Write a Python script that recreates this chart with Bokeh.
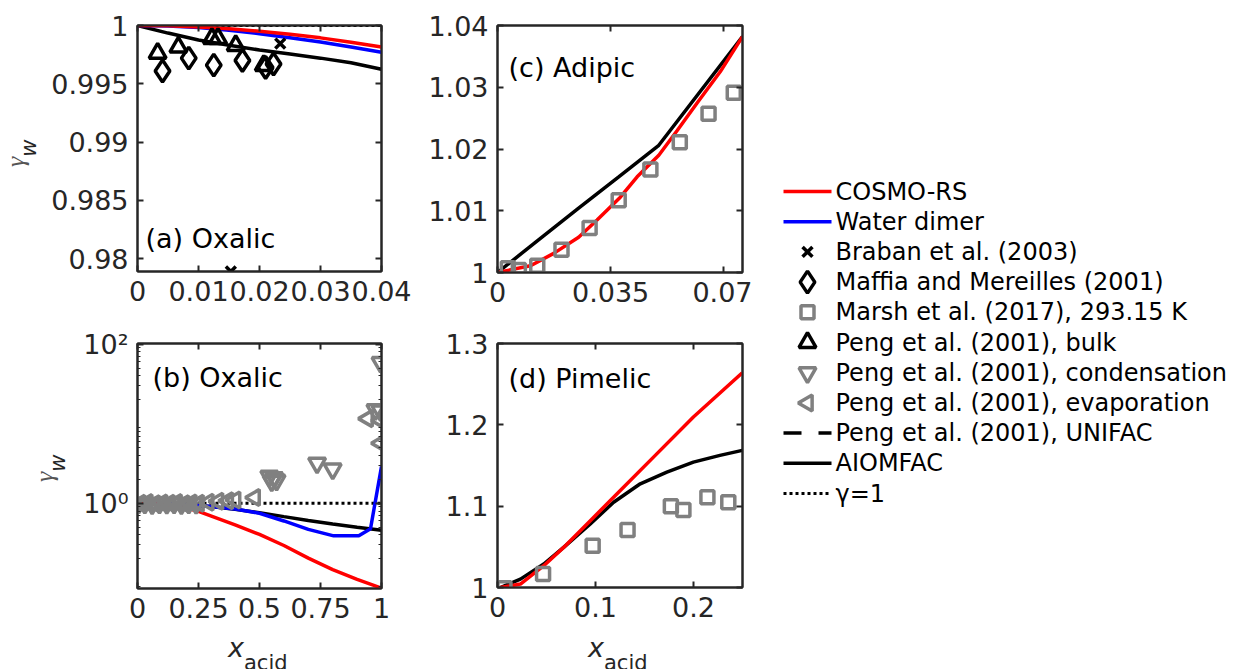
import math
from bokeh.plotting import figure
from bokeh.models import Range1d, FixedTicker, LinearAxis, Label, Div
from bokeh.layouts import row, column
from bokeh.embed import file_html
from bokeh.resources import INLINE
from bokeh.core.properties import value

# ---------------- data ----------------
# (a) Oxalic, dilute
a_x_ticks = [0, 0.01, 0.02, 0.03, 0.04]
a_x_labels = ["0", "0.01", "0.02", "0.03", "0.04"]
a_y_ticks = [0.98, 0.985, 0.99, 0.995, 1.0]
a_y_labels = ["0.98", "0.985", "0.99", "0.995", "1"]
a_model_x = [0, 0.005, 0.01, 0.015, 0.02, 0.025, 0.03, 0.035, 0.04]
a_cosmo = [1.0, 0.99997, 0.99988, 0.99972, 0.99950, 0.99924, 0.99894, 0.99857, 0.99815]
a_dimer = [1.0, 0.99995, 0.99982, 0.99960, 0.99930, 0.99895, 0.99858, 0.99815, 0.99771]
a_aiomfac = [1.0, 0.99935, 0.99875, 0.99830, 0.99790, 0.99755, 0.99720, 0.99680, 0.99625]
a_ideal_x = [0, 0.04]
a_braban_x = [0.0153, 0.0234]
a_braban_y = [0.9789, 0.99845]
a_maffia_x = [0.0041, 0.0084, 0.0125, 0.0172, 0.0210, 0.0223]
a_maffia_y = [0.9961, 0.9972, 0.9966, 0.9970, 0.9964, 0.9967]
a_bulk_x = [0.0033, 0.0067, 0.0122, 0.0132, 0.0161, 0.0207]
a_bulk_y = [0.99762, 0.99814, 0.99888, 0.99888, 0.99828, 0.99657]

# (b) Oxalic, full range (log y)
b_x_ticks = [0, 0.25, 0.5, 0.75, 1]
b_x_labels = ["0", "0.25", "0.5", "0.75", "1"]
b_y_ticks = [1, 100]
b_y_labels = ["10\u2070", "10\u00b2"]
b_cosmo_x = [0, 0.05, 0.1, 0.15, 0.2, 0.25, 0.3, 0.4, 0.5, 0.6, 0.7, 0.8, 0.9, 1.0]
b_cosmo = [1.0, 0.99, 0.971, 0.93, 0.877, 0.79, 0.695, 0.535, 0.406, 0.295, 0.205, 0.147, 0.111, 0.086]
b_dimer_x = [0, 0.1, 0.2, 0.3, 0.4, 0.5, 0.6, 0.7, 0.804, 0.907, 0.955, 1.0]
b_dimer = [1.0, 0.99, 0.96, 0.91, 0.85, 0.75, 0.60, 0.47, 0.39, 0.39, 0.48, 2.9]
b_aiom_x = [0, 0.1, 0.2, 0.3, 0.4, 0.5, 0.6, 0.7, 0.8, 0.9, 1.0]
b_aiomfac = [1.0, 0.99, 0.96, 0.91, 0.84, 0.76, 0.68, 0.61, 0.55, 0.50, 0.46]
b_ideal_x = [0, 1]
b_cond_x = [0.005, 0.03, 0.06, 0.09, 0.12, 0.15, 0.18, 0.21, 0.24,
            0.54, 0.55, 0.56, 0.57, 0.736, 0.80, 0.975, 0.996, 0.996]
b_cond_y = [1.0, 1.0, 0.98, 1.0, 0.99, 1.0, 0.98, 1.0, 0.99,
            2.2, 1.9, 2.1, 1.95, 3.2, 2.7, 15.0, 14.5, 59.0]
b_evap_x = [0.01, 0.04, 0.07, 0.10, 0.13, 0.16, 0.19, 0.22, 0.25,
            0.29, 0.33, 0.37, 0.40, 0.48, 0.943, 0.996, 0.996]
b_evap_y = [1.0, 1.02, 0.99, 1.01, 1.0, 1.02, 0.99, 1.01, 1.0,
            1.03, 1.06, 1.08, 1.1, 1.18, 11.6, 11.0, 5.7]

# (c) Adipic
c_x_ticks = [0, 0.035, 0.07]
c_x_labels = ["0", "0.035", "0.07"]
c_y_ticks = [1.0, 1.01, 1.02, 1.03, 1.04]
c_y_labels = ["1", "1.01", "1.02", "1.03", "1.04"]
c_cosmo_x = [0.0, 0.0102, 0.0174, 0.0251, 0.0308, 0.0380, 0.0432, 0.0499, 0.0556, 0.0617, 0.0689, 0.0758]
c_cosmo = [1.0, 1.0011, 1.0031, 1.0057, 1.0085, 1.0122, 1.0155, 1.0190, 1.0230, 1.0274, 1.0325, 1.0382]
c_aiom_x = [0.0, 0.0125, 0.025, 0.0375, 0.0499, 0.0758]
c_aiomfac = [1.0, 1.0052, 1.0104, 1.0155, 1.0206, 1.0382]
c_marsh_x = [0.0032, 0.0066, 0.0123, 0.0198, 0.0285, 0.0375, 0.0473, 0.0564, 0.0653, 0.0731]
c_marsh_y = [1.0007, 1.0004, 1.0011, 1.0037, 1.0072, 1.0117, 1.0167, 1.0211, 1.0257, 1.0291]

# (d) Pimelic
d_x_ticks = [0, 0.1, 0.2]
d_x_labels = ["0", "0.1", "0.2"]
d_y_ticks = [1.0, 1.1, 1.2, 1.3]
d_y_labels = ["1", "1.1", "1.2", "1.3"]
d_cosmo_x = [0.003, 0.0234, 0.0472, 0.0675, 0.0947, 0.1253, 0.1592, 0.1999, 0.2498]
d_cosmo = [1.0, 1.0042, 1.0268, 1.0493, 1.0822, 1.1192, 1.1603, 1.2096, 1.2639]
d_aiom_x = [0.003, 0.0234, 0.0472, 0.0675, 0.0947, 0.1185, 0.1457, 0.1728, 0.1999, 0.227, 0.2498]
d_aiomfac = [1.0, 1.0103, 1.0288, 1.0493, 1.0782, 1.1048, 1.1275, 1.1418, 1.1541, 1.1624, 1.1686]
d_marsh_x = [0.0071, 0.0465, 0.0971, 0.1327, 0.1769, 0.1897, 0.2142, 0.2355]
d_marsh_y = [0.999, 1.0165, 1.0514, 1.0708, 1.0999, 1.0954, 1.111, 1.1048]

ideal_y = [1, 1]

legend_labels = ["COSMO-RS", "Water dimer", "Braban et al. (2003)", "Maffia and Mereilles (2001)",
                 "Marsh et al. (2017), 293.15 K", "Peng et al. (2001), bulk",
                 "Peng et al. (2001), condensation", "Peng et al. (2001), evaporation",
                 "Peng et al. (2001), UNIFAC", "AIOMFAC", "\u03b3=1"]
legend_rows = list(range(len(legend_labels)))

# ---------------- style ----------------
FONT = "DejaVu Sans"
AX = "#262626"
RED = "#ff0000"
BLUE = "#0000ff"
GRAY = "#808080"
LW = 3.5
TICK_FS = "27px"


def make_fig(fw, fh, l, r, t, b, xr, yr, ylog=False):
    p = figure(frame_width=fw, frame_height=fh,
               min_border_left=l, min_border_right=r, min_border_top=t, min_border_bottom=b,
               x_range=Range1d(*xr), y_range=Range1d(*yr),
               y_axis_type="log" if ylog else "linear",
               toolbar_location=None, output_backend="svg")
    p.grid.visible = False
    p.outline_line_color = AX
    p.outline_line_width = 2
    return p


def style_axis(ax, ticks, labels=None, minor=None):
    ax.ticker = FixedTicker(ticks=ticks, minor_ticks=minor or [])
    ax.axis_line_color = AX
    ax.axis_line_width = 2
    ax.major_tick_in = 6
    ax.major_tick_out = 0
    ax.major_tick_line_color = AX
    ax.major_tick_line_width = 2
    ax.minor_tick_in = 3
    ax.minor_tick_out = 0
    ax.minor_tick_line_color = AX if minor else None
    ax.minor_tick_line_width = 1
    if labels is None:
        ax.major_label_text_font_size = "1px"
        ax.major_label_text_color = None
        ax.major_label_standoff = 0
    else:
        ax.major_label_overrides = dict(zip(ticks, labels))
        ax.major_label_text_font = FONT
        ax.major_label_text_font_size = TICK_FS
        ax.major_label_text_color = AX
        ax.major_label_standoff = 9


def decorate(p, xt, xl, yt, yl, minor=None):
    style_axis(p.xaxis[0], xt, xl)
    style_axis(p.yaxis[0], yt, yl, minor)
    top = LinearAxis()
    style_axis(top, xt)
    p.add_layout(top, "above")
    right = LinearAxis()
    style_axis(right, yt, None, minor)
    p.add_layout(right, "right")


def text(p, x, y, txt, xo, yo):
    p.add_layout(Label(x=x, y=y, x_offset=xo, y_offset=yo, text=txt, text_font=FONT,
                       text_font_size="27px", text_color="black", text_baseline="alphabetic",
                       text_align="left"))


def ylabel_div(w, h, left, top):
    html = (f'<div style="position:relative;width:{w}px;height:{h}px;overflow:visible">'
            f'<span style="position:absolute;left:{left}px;top:{top}px;white-space:nowrap;'
            f'transform-origin:0 0;transform:rotate(-90deg);font-family:\'Liberation Serif\';'
            f'font-size:26px;line-height:26px">'
            f'<i style="color:#555555">\u03b3</i>'
            f'<span style="font-family:\'DejaVu Sans\';font-style:italic;font-size:21px;'
            f'position:relative;top:12px;color:{AX}">w</span></span></div>')
    return Div(text=html, width=w, height=h, margin=0)


def xlabel_div(w, h, left, top):
    html = (f'<div style="position:relative;width:{w}px;height:{h}px;overflow:visible">'
            f'<span style="position:absolute;left:{left}px;top:{top}px;white-space:nowrap;'
            f'font-family:\'DejaVu Sans\';font-size:27px;line-height:27px;color:{AX}">'
            f'<i>x</i><span style="font-size:21px;position:relative;top:13px">acid</span>'
            f'</span></div>')
    return Div(text=html, width=w, height=h, margin=0)


def marker_kw(marker, color, size, angle=0.0):
    return dict(marker=marker, size=size, fill_color=None, line_color=color, line_width=LW, angle=angle)


# ---------------- panel (a) ----------------
pa = make_fig(244, 246, 93, 30, 25, 40, (0, 0.04), (0.9789, 1.0))
decorate(pa, a_x_ticks, a_x_labels, a_y_ticks, a_y_labels)
pa.line(a_ideal_x, ideal_y, line_color="black", line_width=3, line_dash="3 3")
pa.line(a_model_x, a_aiomfac, line_color="black", line_width=LW)
pa.line(a_model_x, a_dimer, line_color=BLUE, line_width=LW)
pa.line(a_model_x, a_cosmo, line_color=RED, line_width=LW)
pa.scatter(a_bulk_x, a_bulk_y, **marker_kw("triangle", "black", 17))
pa.scatter(a_maffia_x, a_maffia_y, **marker_kw("diamond", "black", 22))
pa.scatter(a_braban_x, a_braban_y, **marker_kw("x", "black", 14))
text(pa, 0, 0.9789, "(a) Oxalic", 8, 33)

# ---------------- panel (b) ----------------
b_minor = [m * 10.0 ** e for e in (-2, -1, 0, 1) for m in range(2, 10)]
pb = make_fig(244, 245, 67, 30, 32, 50, (0, 1), (0.085, 102), ylog=True)
decorate(pb, b_x_ticks, b_x_labels, b_y_ticks, b_y_labels, minor=b_minor)
pb.line(b_ideal_x, ideal_y, line_color="black", line_width=3, line_dash="3 3")
pb.line(b_aiom_x, b_aiomfac, line_color="black", line_width=LW)
pb.line(b_dimer_x, b_dimer, line_color=BLUE, line_width=LW)
pb.line(b_cosmo_x, b_cosmo, line_color=RED, line_width=LW)
pb.scatter(b_evap_x, b_evap_y, **marker_kw("triangle", GRAY, 16, math.pi / 2))
pb.scatter(b_cond_x, b_cond_y, **marker_kw("inverted_triangle", GRAY, 17))
text(pb, 0, 0.085, "(b) Oxalic", 15, 211)

# ---------------- panel (c) ----------------
pc = make_fig(245, 247, 86, 10, 25, 39, (0, 0.0758), (1.0, 1.04))
decorate(pc, c_x_ticks, c_x_labels, c_y_ticks, c_y_labels)
pc.line(c_aiom_x, c_aiomfac, line_color="black", line_width=LW)
pc.line(c_cosmo_x, c_cosmo, line_color=RED, line_width=LW)
pc.scatter(c_marsh_x, c_marsh_y, **marker_kw("square", GRAY, 13))
text(pc, 0, 1.0, "(c) Adipic", 11, 205)

# ---------------- panel (d) ----------------
pd_ = make_fig(245, 244, 86, 10, 32, 51, (0, 0.25), (1.0, 1.3))
decorate(pd_, d_x_ticks, d_x_labels, d_y_ticks, d_y_labels)
pd_.line(d_aiom_x, d_aiomfac, line_color="black", line_width=LW)
pd_.line(d_cosmo_x, d_cosmo, line_color=RED, line_width=LW)
pd_.scatter(d_marsh_x, d_marsh_y, **marker_kw("square", GRAY, 13))
text(pd_, 0, 1.0, "(d) Pimelic", 11, 209)

# ---------------- legend (drawn as its own small plot: row index -> vertical position) ----------------
ROW_PX = 30.2
FIRST_ROW_PX = 191
pl = figure(width=491, height=669, x_axis_type=None, y_axis_type=None, toolbar_location=None,
            output_backend="svg", min_border=0,
            x_range=Range1d(0, 491),
            y_range=Range1d((669 - FIRST_ROW_PX) / ROW_PX, -FIRST_ROW_PX / ROW_PX))
pl.outline_line_color = None
pl.grid.visible = False
KEY_X0, KEY_X1, KEY_XC, TEXT_X = 31, 79, 55, 83
line_keys = [(0, RED, None, LW), (1, BLUE, None, LW), (8, "black", "18 17", LW),
             (9, "black", None, LW), (10, "black", "3 3", 3)]
for i, col, dash, w in line_keys:
    kw = dict(line_color=col, line_width=w)
    if dash:
        kw["line_dash"] = dash
    pl.segment(x0=[KEY_X0], x1=[KEY_X1], y0=[legend_rows[i]], y1=[legend_rows[i]], **kw)
marker_keys = [(2, "x", "black", 14, 0.0), (3, "diamond", "black", 22, 0.0), (4, "square", GRAY, 13, 0.0),
               (5, "triangle", "black", 17, 0.0), (6, "inverted_triangle", GRAY, 17, 0.0),
               (7, "triangle", GRAY, 16, math.pi / 2)]
for i, mk, col, sz, ang in marker_keys:
    pl.scatter([KEY_XC], [legend_rows[i]], **marker_kw(mk, col, sz, ang))
pl.text(x=[TEXT_X] * len(legend_rows), y=legend_rows, text=legend_labels,
        text_font=value(FONT), text_font_size="24px", text_color="black",
        text_baseline="middle", text_align="left")

# ---------------- axis-title boxes ----------------
ya = ylabel_div(44, 311, 3, 167)
yb = ylabel_div(70, 327, 32, 171)
xb = xlabel_div(411, 31, 228, -4)
xd = xlabel_div(341, 31, 177, -4)

col1 = column(row(ya, pa), row(yb, pb), xb)
col2 = column(pc, pd_, xd)
layout = row(col1, col2, pl)
open("out.html", "w").write(file_html(layout, INLINE))
